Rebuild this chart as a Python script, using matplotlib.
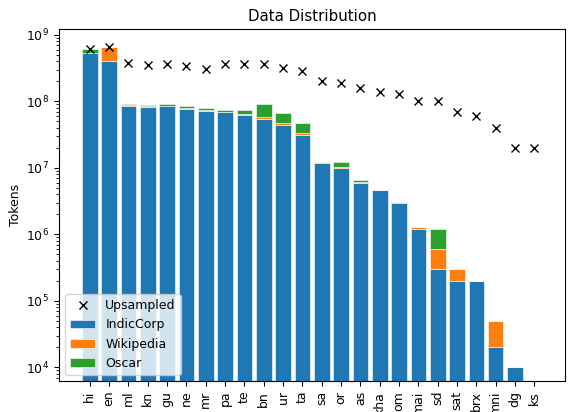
import matplotlib
matplotlib.use("Agg")
import matplotlib.pyplot as plt
import numpy as np

langs = ['hi', 'en', 'ml', 'kn', 'gu', 'ne', 'mr', 'pa', 'te', 'bn', 'ur', 'ta',
         'sa', 'or', 'as', 'kha', 'om', 'mai', 'sd', 'sat', 'brx', 'mni', 'dg', 'ks']

indiccorp = [5.3e8, 4.05e8, 8.6e7, 8.3e7, 8.4e7, 7.7e7, 7.2e7, 6.8e7, 6.2e7, 5.5e7, 4.45e7, 3.1e7,
             1.19e7, 1.0e7, 5.85e6, 4.6e6, 3.0e6, 1.2e6, 3.0e5, 2.0e5, 2.0e5, 2.0e4, 1.0e4, 0]
wikipedia = [5e6, 2.4e8, 1.5e6, 1.5e6, 1e6, 1e6, 1e6, 1.5e6, 3e6, 2.5e6, 2.5e6, 2.0e6,
             2e5, 3e5, 3.5e5, 0, 1e5, 1e5, 3.0e5, 1.0e5, 0, 3.0e4, 0, 0]
oscar = [7.5e7, 0, 4.5e6, 2.5e6, 5e6, 7e6, 6e6, 3.5e6, 8e6, 3.45e7, 1.9e7, 1.5e7,
         3e5, 1.8e6, 4e5, 0, 0, 0, 6.0e5, 0, 0, 0, 0, 0]
upsampled = [6.1e8, 6.5e8, 3.75e8, 3.5e8, 3.6e8, 3.45e8, 3.1e8, 3.7e8, 3.7e8, 3.7e8, 3.2e8, 2.9e8,
             2.0e8, 1.87e8, 1.6e8, 1.4e8, 1.28e8, 1.0e8, 1.0e8, 7.0e7, 6.0e7, 4.0e7, 2.0e7, 2.0e7]

plt.rcParams['font.size'] = 9

x = np.arange(len(langs))
ic = np.array(indiccorp)
wk = np.array(wikipedia)
os_ = np.array(oscar)

fig = plt.figure(figsize=(5.68, 4.12), dpi=100)
ax = fig.add_axes([0.104, 0.075, 0.891, 0.855])

b1 = ax.bar(x, ic, color='tab:blue', edgecolor='white', linewidth=0.4, label='IndicCorp')
b2 = ax.bar(x, wk, bottom=ic, color='tab:orange', edgecolor='white', linewidth=0.4, label='Wikipedia')
b3 = ax.bar(x, os_, bottom=ic + wk, color='tab:green', edgecolor='white', linewidth=0.4, label='Oscar')
up, = ax.plot(x, upsampled, 'x', color='black', label='Upsampled')

ax.set_yscale('log')
ax.set_ylim(6.2e3, 1.23e9)
ax.set_xticks(x)
ax.set_xticklabels(langs, rotation=90)
ax.set_ylabel('Tokens', labelpad=3)
ax.set_title('Data Distribution', fontsize=10.8)
ax.legend(handles=[up, b1, b2, b3], loc='lower left')

fig.savefig('out.png')
